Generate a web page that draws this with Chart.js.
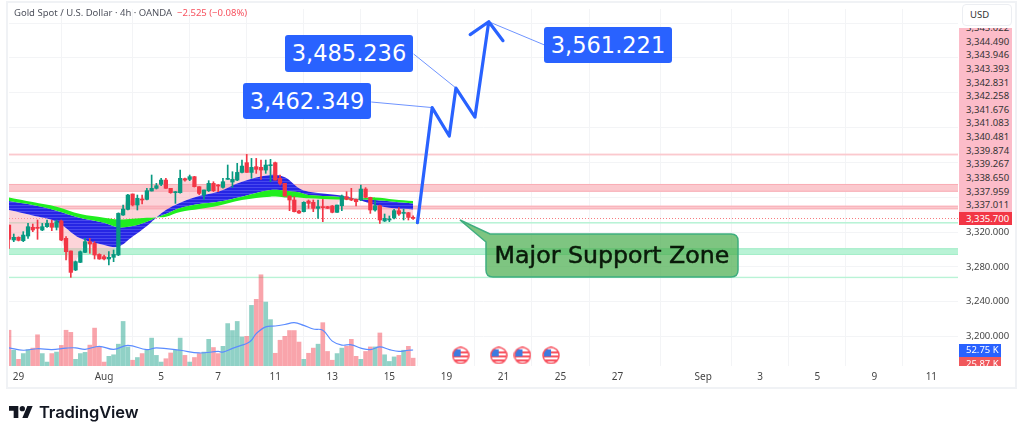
<!DOCTYPE html>
<html>
<head>
<meta charset="utf-8">
<script src="https://cdn.jsdelivr.net/npm/chart.js@4/dist/chart.umd.min.js"></script>
<style>
  html, body { margin: 0; padding: 0; background: #fff; overflow: hidden; }
  #wrap { position: relative; width: 1024px; height: 436px; font-family: "Noto Sans", sans-serif; }
  #frame { position: absolute; left: 6px; top: 1px; width: 1007px; height: 384px; border: 2px solid #f0f2f5; }
  canvas { position: absolute; left: 0; top: 0; }
  .abs { position: absolute; }
  #title { left: 14px; top: 5px; font-size: 9.5px; line-height: 15px; color: #50535e; white-space: pre; }
  #title span { color: #f7525f; }
  .callout { background: #2962ff; color: #fff; border-radius: 3px; font: 22.5px "DejaVu Sans", sans-serif; text-align: center; }
  #usd { left: 962px; top: 4px; width: 48px; height: 20px; border: 1px solid #eceef2; border-radius: 4px; font-size: 9.5px; line-height: 20px; color: #333; text-indent: 7px; background: #fff; }
  #stack { left: 959px; top: 28px; width: 53px; height: 184px; background: #fcbcc9; overflow: hidden; }
  #stack div { position: absolute; left: 7px; font-size: 9.5px; line-height: 12px; color: #333; }
  .tag { left: 959px; color: #fff; font-size: 9.5px; text-indent: 7px; overflow: hidden; }
  #logo { left: 9px; top: 402px; display: flex; align-items: center; }
  #logo b { font: 600 16.5px Inter, sans-serif; color: #131722; margin-left: 6px; letter-spacing: -0.1px; }
</style>
</head>
<body>
<div id="wrap">
  <div id="frame"></div>
  <canvas id="chart" width="1024" height="436"></canvas>
  <div class="abs" id="title">Gold Spot / U.S. Dollar · 4h · OANDA  <span>−2.525 (−0.08%)</span></div>
  <div class="abs" id="usd">USD</div>
  <div class="abs" id="stack"></div>
  <div class="abs tag" style="top:212px;height:13px;width:53px;background:#f23645;line-height:13px">3,335.700</div>
  <div class="abs tag" style="top:344px;height:12.5px;width:42px;background:#2962ff;line-height:12.5px">52.75 K</div>
  <div class="abs tag" style="top:356.5px;height:9px;width:42px;background:#f0585c;line-height:13px">25.87 K</div>
  <div class="abs callout" style="left:285px;top:35px;width:128px;height:37px;line-height:37px">3,485.236</div>
  <div class="abs callout" style="left:243px;top:83px;width:128px;height:36px;line-height:36px">3,462.349</div>
  <div class="abs callout" style="left:544px;top:27px;width:128px;height:36px;line-height:36px">3,561.221</div>
  <svg class="abs" style="left:0;top:0" width="1024" height="436">
    <path d="M460 220 L490 234 H731 Q738 234 738 241 V270 Q738 277 731 277 H493 Q486 277 486 270 V242 Z"
          fill="rgba(76,175,80,0.72)" stroke="#3fae7f" stroke-width="1.5"/>
    <text x="612" y="262.5" text-anchor="middle" font-family="DejaVu Sans" font-size="23.7" fill="#0a1a0a" stroke="#0a1a0a" stroke-width="0.5">Major Support Zone</text>
  </svg>
  <div class="abs" id="logo">
    <svg width="24" height="12" viewBox="0 4 36 18"><path fill="#131722" d="M14 22H7V11H0V4h14v18zM28 22h-8l7.5-18h8L28 22z"/><circle fill="#131722" cx="20" cy="8" r="4"/></svg>
    <b>TradingView</b>
  </div>
</div>
<script>
// candles, one per 4h bar
const opens = [3328,3310.8,3313.9,3310,3315.4,3325.4,3325.4,3322.3,3326.1,3329.9,3325.4,3332.6,3312.7,3298.2,3276.3,3285.1,3296.6,3308.9,3307,3294.3,3291.6,3289,3290.9,3293.6,3339.5,3346,3363.7,3351,3357.5,3357.5,3367.1,3370.2,3374.8,3379.7,3370.2,3365.2,3365.2,3381.3,3380.5,3383.6,3372.1,3362.5,3367.5,3375.9,3374,3371.3,3380.5,3377.4,3379.7,3388.5,3399.7,3388.5,3395.1,3394.3,3391.2,3396.2,3399.7,3381.7,3375.9,3361.4,3356.8,3344.1,3343.4,3355.6,3354.1,3347.2,3349.1,3349.1,3349.9,3342.6,3350.2,3360.6,3358.3,3357.5,3356.8,3369.4,3359.8,3345.3,3350.2,3332.6,3333.8,3336.1,3344.5,3341.4,3342.2,3336.8];
const highs = [3328,3317.7,3314.5,3320.4,3329.9,3329.2,3333.8,3329.9,3333.8,3333.8,3333.8,3333.8,3314.6,3298.2,3286.7,3298.2,3312.7,3312.7,3308.9,3295,3293.6,3297.4,3299.3,3342,3351,3363.3,3363.7,3362.5,3362.5,3370.2,3385.5,3375.9,3381.7,3381.7,3370.2,3366.6,3391.2,3382,3385.5,3384,3372.1,3368.3,3379,3377.8,3374.5,3381.7,3397,3389.3,3398.9,3402.7,3409.2,3404.6,3404.6,3402.7,3402.7,3403.5,3400.4,3385.5,3375.9,3361.4,3360.6,3345,3354.8,3356.8,3356.8,3356.8,3357.5,3349.5,3350.5,3351,3362.5,3366.3,3370.2,3358,3374,3371,3360,3356.8,3351,3340.7,3338.4,3346,3348,3346.4,3342.6,3338.5];
const lows = [3301.2,3308.9,3309.7,3308.9,3312.7,3320.4,3311.6,3321.5,3325.4,3321.5,3322.3,3310,3287.8,3267.9,3275.6,3284.8,3296.2,3295.5,3289,3288.6,3287.8,3282.1,3285.9,3292.9,3339.1,3345.3,3349.9,3345.3,3352.2,3356.8,3367.1,3369.4,3373.2,3370.2,3364.5,3352.9,3364.5,3378.5,3379,3371.7,3363,3357.5,3366.5,3366.5,3366.3,3370.5,3380.5,3371.3,3379,3388,3388.5,3381.7,3387.4,3380.5,3387.4,3377.8,3379.7,3374,3361,3344.5,3343,3341.5,3343,3347.2,3343.4,3335.7,3331.9,3346.8,3342,3342.6,3344.5,3357,3356,3349.9,3356,3359.5,3341.4,3344,3329.9,3332,3331.9,3335,3339,3333.8,3333.8,3334.5];
const closes = [3311.6,3313.9,3310.4,3316.5,3326.1,3322.3,3324.2,3326.1,3329.9,3325.4,3331.9,3310.8,3297.4,3273.6,3285.9,3297.4,3308.9,3306.2,3293.6,3289,3289,3290.9,3294.3,3341.4,3346.4,3362.5,3351,3358.7,3356.8,3367.5,3370.2,3373.2,3379.7,3370.2,3365.2,3366.3,3381.7,3379.7,3383.6,3372.1,3364.4,3368.3,3375.9,3367.5,3372.8,3377.8,3381.5,3380.5,3388.5,3395.8,3388.5,3394.3,3392,3391.2,3397,3397,3379.7,3375.9,3361.4,3356.8,3343.4,3341.8,3354.1,3352.9,3347.2,3349.1,3348,3347.2,3342.6,3351,3361.4,3357.5,3356.8,3354.8,3369.4,3359.8,3345.3,3350.2,3333.8,3335.7,3334.5,3344.5,3340.7,3342.2,3336.8,3335.7];

// volume in K, same bars
const volumes = [118,52,22,41,54,59,103,41,13,41,46,68,118,111,22,41,45,69,125,63,13,32,37,72,147,63,19,28,41,54,92,35,13,24,43,52,92,35,13,28,41,46,88,61,41,65,140,117,147,96,98,200,220,301,211,153,42,85,98,117,117,79,22,42,59,72,143,48,19,41,59,65,88,32,22,48,63,63,109,37,15,30,35,52,65,25.87];
const volMaIdx = [0,3,6,9,12,14,16,19,22,25,29,31,36,40,44,45,47,49,50,51,52,54,56,58,60,62,64,66,68,70,72,74,76,78,80,82,84,85];
const volMa = [60,52,57,54,59,60,55,65,55,68,54,60,52,43,48,46,58,69,74,85,107,129,132,137,143,134,122,118,82,69,70,59,54,63,54,48,52,52.75];

// moving average ribbon, read at these bars
const ribbonIdx = [0,5,10,15,20,23,26,29,31,33,36,40,44,49,55,58,61,63,69,73,77,81,85];
const ribbonGreen = [3359.8,3354.5,3349.1,3340.7,3336.5,3334.5,3335.3,3336.5,3336.8,3337.6,3343,3346.4,3350.2,3356.8,3360.6,3359.8,3359.8,3358.7,3357.5,3357.9,3359.8,3357.5,3355.6];
const ribbonSplit = [3355.6,3351,3344.5,3336.1,3330.7,3325.4,3326.9,3331.9,3336.8,3340.7,3347.6,3352.2,3354.8,3360.6,3368.2,3367.5,3365.6,3362.5,3360.6,3357.9,3356.8,3354.8,3352.9];
const ribbonBlue = [3345.3,3339.1,3331.9,3312.7,3305.1,3303.1,3314.7,3326.9,3336.8,3345.3,3353.7,3361.4,3366.3,3377.8,3385.5,3382.8,3370.2,3366.3,3362.5,3357.9,3351,3347.2,3346];

// projected path with arrow head
const pathIdx = [85.9,89,92.6,94,98,100.9,97,100.9,103.9];
const pathPrice = [3330.7,3463,3430.3,3485.5,3452,3561.7,3546.8,3561.7,3539.9];
const leaderA = [[76.2,3469.4],[89,3463]];
const leaderB = [[85.1,3524.6],[94,3485.5]];
const leaderC = [[112.6,3535],[100.9,3561.7]];

// horizontal zones, low and high price
const pinkZones = [[3408,3410.1],[3366.3,3375.2],[3346.1,3350.2]];
const greenZones = [[3329.7,3331.5],[3293.6,3301.3],[3267,3268.6]];
const lastPrice = 3335.7;

const eventIdx = [95,103,108,114];
const eventVol = [35,35,35,35];

const dateIdx = [2,20,32,44,56,68,80,92,104,116,128,146,158,170,182,194];
const dateLabels = ['29','Aug','5','7','11','13','15','19','21','25','27','Sep','3','5','9','11'];
const priceTicks = [3200,3240,3280,3320,3360,3400,3440,3480,3520,3560];
const stackedLabels = ['3,345.022','3,344.490','3,343.946','3,343.393','3,342.831','3,342.258','3,341.676','3,341.083','3,340.481','3,339.874','3,339.267','3,338.650','3,337.959','3,337.011'];

const UP = '#089981';
const DOWN = '#f23645';

const stackEl = document.getElementById('stack');
stackedLabels.forEach((t, i) => {
  const d = document.createElement('div');
  d.textContent = t;
  d.style.top = (-6 + i * 13.63) + 'px';
  stackEl.appendChild(d);
});

function stripes() {
  const c = document.createElement('canvas');
  c.width = 4; c.height = 3;
  const g = c.getContext('2d');
  g.fillStyle = '#2626e4';
  g.fillRect(0, 0, 4, 3);
  g.fillStyle = '#4848ee';
  g.fillRect(0, 1, 4, 1);
  return g.createPattern(c, 'repeat');
}

function flagIcon() {
  const c = document.createElement('canvas');
  c.width = 18; c.height = 18;
  const g = c.getContext('2d');
  g.beginPath(); g.arc(9, 9, 8, 0, Math.PI * 2);
  g.fillStyle = '#fff'; g.fill();
  g.save(); g.clip();
  g.fillStyle = '#f7525f';
  g.fillRect(0, 9, 18, 2); g.fillRect(0, 13, 18, 2);
  g.fillRect(9, 5, 9, 2);
  g.fillStyle = '#3d7be0';
  g.fillRect(2, 3, 7, 7);
  g.restore();
  g.beginPath(); g.arc(9, 9, 8, 0, Math.PI * 2);
  g.strokeStyle = '#f7525f'; g.lineWidth = 1.5; g.stroke();
  return c;
}

const pts = (xs, ys) => xs.map((x, i) => ({ x, y: ys[i] }));
const isUp = (i) => closes[i] >= opens[i];

// zones and the dotted last price sit under every dataset
const zonesPlugin = {
  id: 'zones',
  beforeDatasetsDraw(chart) {
    const { ctx, chartArea: a, scales: { y } } = chart;
    ctx.save();
    const band = (z, fill, edge) => {
      const top = y.getPixelForValue(z[1]);
      const h = y.getPixelForValue(z[0]) - top;
      ctx.fillStyle = fill;
      ctx.fillRect(a.left, top, a.right - a.left, h);
      if (h > 3) {
        ctx.fillStyle = edge;
        ctx.fillRect(a.left, top, a.right - a.left, 1);
        ctx.fillRect(a.left, top + h - 1, a.right - a.left, 1);
      }
    };
    pinkZones.forEach((z) => band(z, '#fbc9ce', '#f9aeb6'));
    greenZones.forEach((z) => band(z, '#b9f3d6', '#a5eec9'));
    const py = Math.round(y.getPixelForValue(lastPrice)) + 0.5;
    ctx.strokeStyle = '#f77c80';
    ctx.lineWidth = 1;
    ctx.setLineDash([1, 2]);
    ctx.beginPath(); ctx.moveTo(a.left, py); ctx.lineTo(a.right, py); ctx.stroke();
    ctx.restore();
  }
};

const lineBase = { type: 'line', pointRadius: 0, borderWidth: 0, fill: false, tension: 0.35 };
const candleIdx = closes.map((_, i) => i);

new Chart(document.getElementById('chart'), {
  type: 'bar',
  data: {
    datasets: [
      // 0 blue edge of the ribbon, filled up to the split line
      { ...lineBase, data: pts(ribbonIdx, ribbonBlue), fill: 1, backgroundColor: stripes(), order: 7 },
      // 1 split between blue and green
      { ...lineBase, data: pts(ribbonIdx, ribbonSplit), order: 7 },
      // 2 green edge of the ribbon
      { ...lineBase, data: pts(ribbonIdx, ribbonGreen), fill: 1, backgroundColor: '#1fee1f', order: 6 },
      // 3 pink cloud between price and ribbon
      { ...lineBase, data: pts(candleIdx, closes), fill: 0, backgroundColor: 'rgba(250,170,180,0.5)', tension: 0, order: 8 },
      {
        grouped: false, yAxisID: 'yVol', barThickness: 4, order: 10,
        data: pts(candleIdx, volumes),
        backgroundColor: candleIdx.map((i) => (isUp(i) ? 'rgba(8,153,129,0.45)' : 'rgba(242,54,69,0.45)'))
      },
      { ...lineBase, yAxisID: 'yVol', data: pts(volMaIdx, volMa), borderWidth: 1.2, borderColor: '#5b8cff', tension: 0.4, order: 9 },
      {
        grouped: false, barThickness: 1, order: 4,
        data: candleIdx.map((i) => ({ x: i, y: [lows[i], highs[i]] })),
        backgroundColor: candleIdx.map((i) => (isUp(i) ? UP : DOWN))
      },
      {
        grouped: false, barThickness: 3.6, order: 3, minBarLength: 1,
        data: candleIdx.map((i) => ({ x: i, y: [opens[i], closes[i]] })),
        backgroundColor: candleIdx.map((i) => (isUp(i) ? UP : DOWN))
      },
      { ...lineBase, data: leaderA.map(([x, y]) => ({ x, y })), borderWidth: 1, borderColor: '#6f94ff', tension: 0, order: 2 },
      { ...lineBase, data: leaderB.map(([x, y]) => ({ x, y })), borderWidth: 1, borderColor: '#6f94ff', tension: 0, order: 2 },
      { ...lineBase, data: leaderC.map(([x, y]) => ({ x, y })), borderWidth: 1, borderColor: '#6f94ff', tension: 0, order: 2 },
      {
        ...lineBase, data: pts(pathIdx, pathPrice), borderWidth: 3.2, borderColor: '#2962ff',
        tension: 0, borderCapStyle: 'round', borderJoinStyle: 'round', order: 1
      },
      {
        ...lineBase, yAxisID: 'yVol', data: pts(eventIdx, eventVol), showLine: false,
        pointStyle: flagIcon(), pointRadius: 9, order: 0
      }
    ]
  },
  options: {
    responsive: false,
    animation: false,
    layout: { padding: { left: 7, top: 3, right: 0, bottom: 50 } },
    plugins: { legend: { display: false }, tooltip: { enabled: false } },
    scales: {
      x: {
        type: 'linear',
        min: 0,
        max: 199.6,
        offset: false,
        afterBuildTicks: (s) => { s.ticks = dateIdx.map((value) => ({ value })); },
        afterFit: (s) => { s.height = 20; s.paddingLeft = 0; s.paddingRight = 0; },
        grid: { color: '#f3f4f6', drawTicks: false },
        border: { display: false },
        ticks: {
          autoSkip: false, maxRotation: 0, padding: 5, color: '#444',
          font: { family: 'Noto Sans', size: 10 },
          callback: (v) => dateLabels[dateIdx.indexOf(v)]
        }
      },
      y: {
        position: 'right',
        min: 3166,
        max: 3576.3,
        afterBuildTicks: (s) => { s.ticks = priceTicks.map((value) => ({ value })); },
        afterFit: (s) => { s.width = 66; s.paddingTop = 0; s.paddingBottom = 0; },
        grid: { color: '#f3f4f6', drawTicks: false },
        border: { display: false },
        ticks: {
          padding: 8, color: '#444',
          font: { family: 'Noto Sans', size: 9.5 },
          callback: (v) => (v <= 3320 ? v.toLocaleString('en-US', { minimumFractionDigits: 3 }) : '')
        }
      },
      yVol: { display: false, min: 0, max: 1178 }
    }
  },
  plugins: [zonesPlugin]
});
</script>
</body>
</html>
